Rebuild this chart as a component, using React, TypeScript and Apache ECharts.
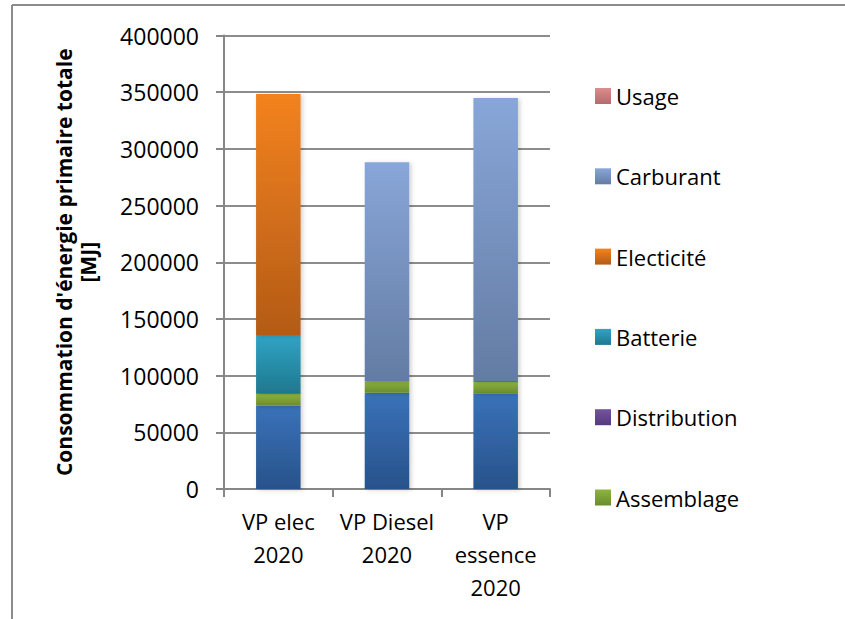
import React, { useEffect, useRef } from "react";
import * as echarts from "echarts";

const categories = ["VP elec\n2020", "VP Diesel\n2020", "VP\nessence\n2020"];
const materiaux = [73500, 85000, 84500];
const assemblage = [10500, 10300, 10000];
const distribution = [600, 0, 800];
const batterie = [51200, 0, 0];
const electicite = [212500, 0, 0];
const carburant = [0, 193000, 249500];
const usage = [0, 0, 0];
const yTicks = [0, 50000, 100000, 150000, 200000, 250000, 300000, 350000, 400000];

const FONT = "Open Sans";

function grad(top: string, bottom: string) {
  return new echarts.graphic.LinearGradient(0, 0, 0, 1, [
    { offset: 0, color: top },
    { offset: 1, color: bottom },
  ]);
}

export default function App() {
  const ref = useRef<HTMLDivElement>(null);
  useEffect(() => {
    if (!ref.current) return;
    const chart = echarts.init(ref.current, undefined, { renderer: "svg" });
    const mk = (name: string, data: number[], top: string, bottom: string) => ({
      name,
      type: "bar",
      stack: "total",
      data,
      barWidth: "41%",
      itemStyle: {
        color: grad(top, bottom),
        shadowBlur: 4,
        shadowColor: "rgba(0,0,0,0.18)",
        shadowOffsetX: 2,
        shadowOffsetY: 1,
      },
    });
    chart.setOption({
      animation: false,
      backgroundColor: "#ffffff",
      graphic: [
        { type: "line", shape: { x1: 12, y1: 5, x2: 845, y2: 5 }, style: { stroke: "#8c8c8c", lineWidth: 2 } },
        { type: "line", shape: { x1: 12, y1: 5, x2: 12, y2: 619 }, style: { stroke: "#8c8c8c", lineWidth: 2 } },
      ],
      grid: { left: 224, right: 295, top: 35.5, bottom: 130 },
      legend: {
        orient: "vertical",
        left: 590,
        top: 79,
        itemWidth: 16,
        itemHeight: 16,
        itemGap: 56.3,
        icon: "rect",
        data: ["Usage", "Carburant", "Electicité", "Batterie", "Distribution", "Assemblage"],
        textStyle: { fontFamily: FONT, fontSize: 22, color: "#000", lineHeight: 24 },
      },
      xAxis: {
        type: "category",
        data: categories,
        axisLine: { lineStyle: { color: "#868686", width: 2 } },
        axisTick: { show: true, length: 8, lineStyle: { color: "#868686", width: 2 } },
        axisLabel: { fontFamily: FONT, fontSize: 22, color: "#000", lineHeight: 33, margin: 15, interval: 0 },
      },
      yAxis: {
        type: "value",
        min: yTicks[0],
        max: yTicks[yTicks.length - 1],
        interval: 50000,
        name: "Consommation d'énergie primaire totale\n[MJ]",
        nameLocation: "middle",
        nameGap: 124,
        nameTextStyle: { fontFamily: FONT, fontSize: 21, fontWeight: "bold", color: "#000", lineHeight: 24 },
        axisLine: { show: true, lineStyle: { color: "#868686", width: 2 } },
        axisTick: { show: true, length: 8, inside: false, lineStyle: { color: "#868686", width: 2 } },
        axisLabel: { fontFamily: FONT, fontSize: 23, color: "#000", margin: 25, formatter: (v: number) => String(v) },
        splitLine: { show: true, lineStyle: { color: "#8c8c8c", width: 2 } },
      },
      series: [
        { ...mk("Matériaux", materiaux, "#3a72ba", "#28528a") },
        mk("Assemblage", assemblage, "#8db43f", "#6a8c2e"),
        mk("Distribution", distribution, "#7454a0", "#553a7e"),
        mk("Batterie", batterie, "#30a4c4", "#1f788f"),
        mk("Electicité", electicite, "#f3821f", "#b35b17"),
        mk("Carburant", carburant, "#88a6d8", "#637ca3"),
        mk("Usage", usage, "#dc8d8e", "#b56a6b"),
      ],
    });
    return () => chart.dispose();
  }, []);
  return (
    <div
      ref={ref}
      style={{ position: "fixed", left: 0, top: 0, width: 845, height: 619 }}
    />
  );
}
